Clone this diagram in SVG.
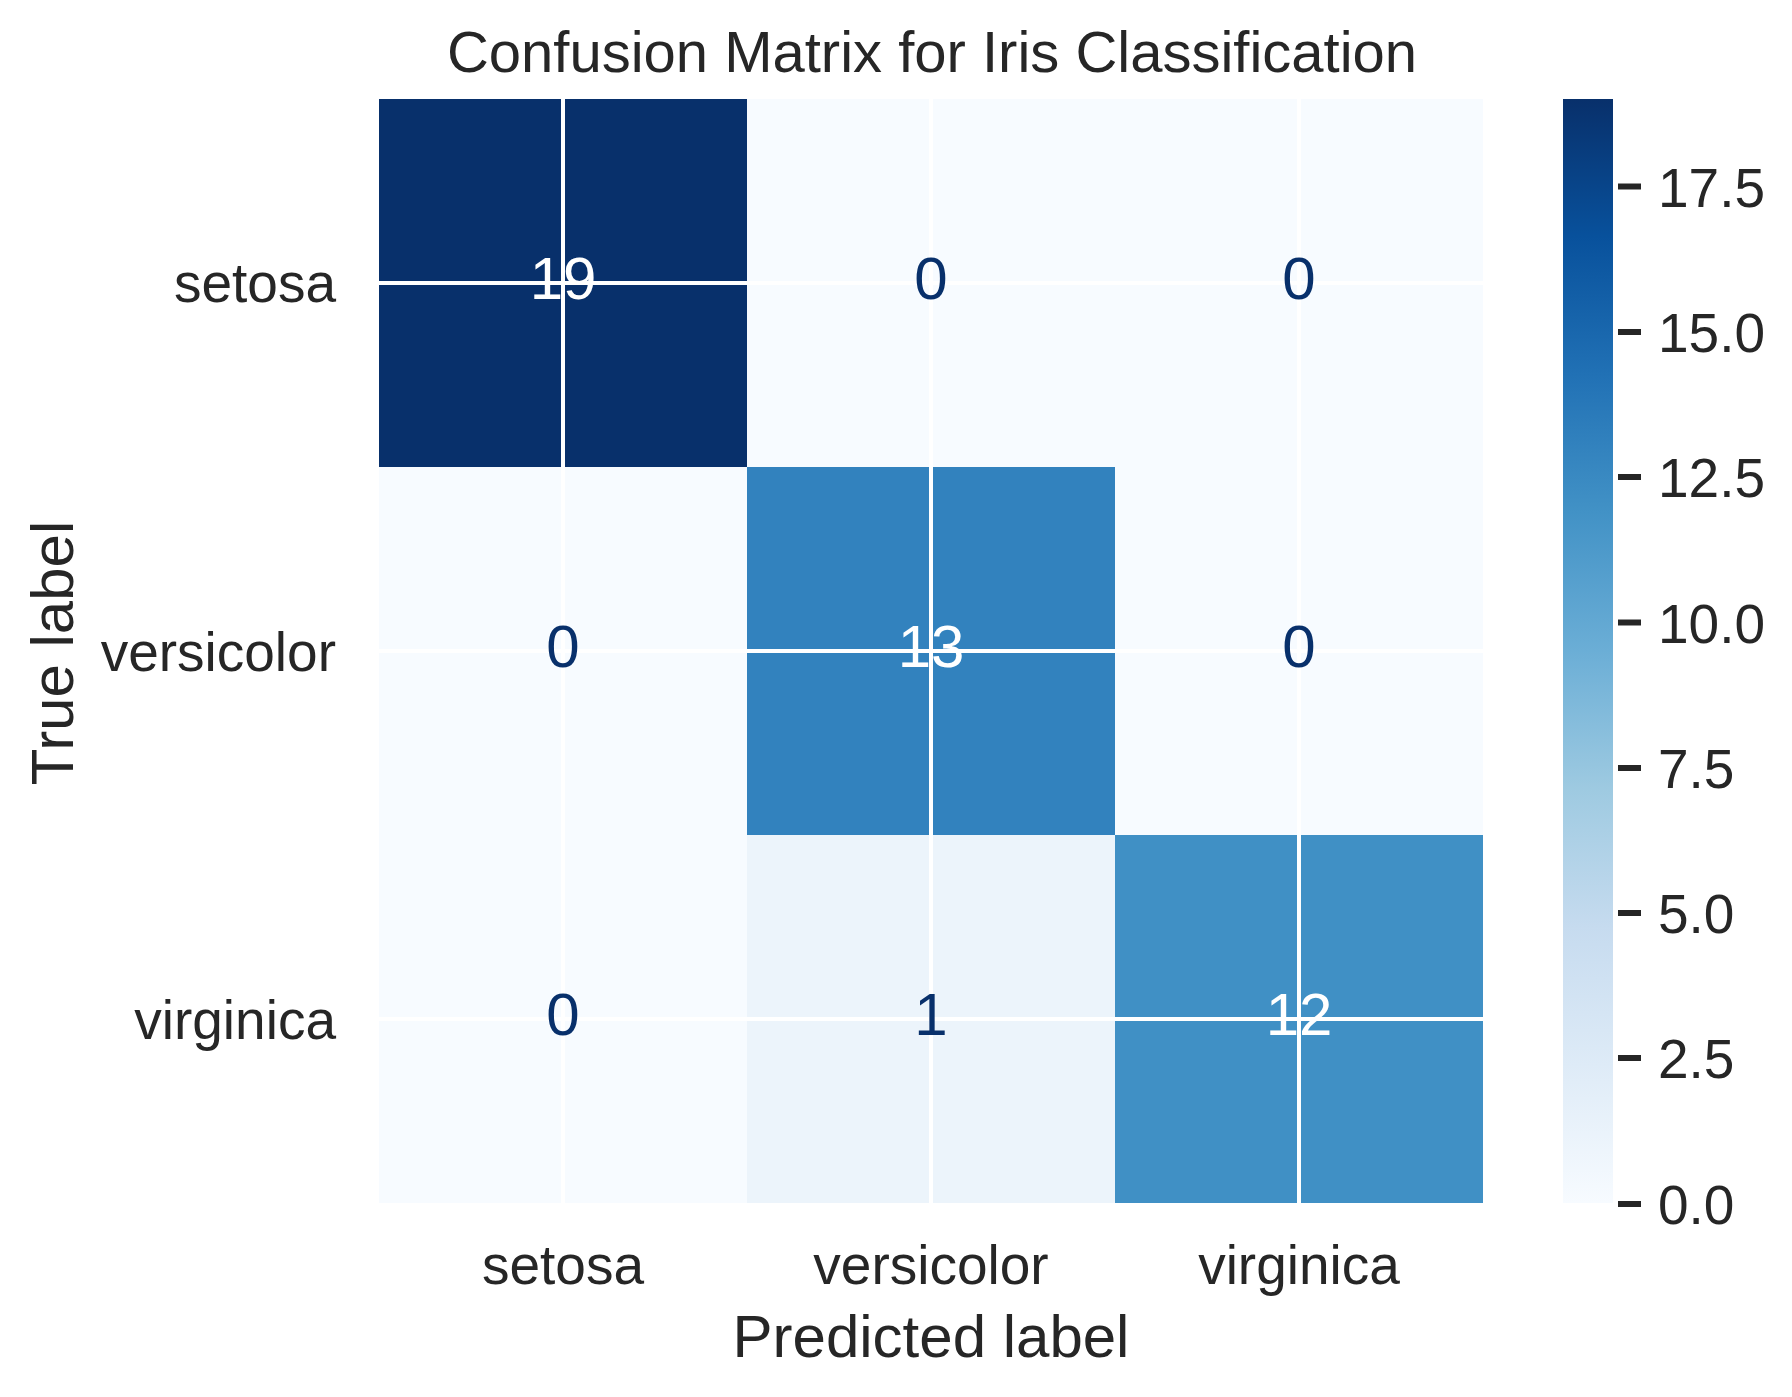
<svg xmlns="http://www.w3.org/2000/svg" width="1792" height="1397" viewBox="0 0 1792 1397">
<defs>
<linearGradient id="blues" x1="0" y1="1" x2="0" y2="0">
<stop offset="0" stop-color="#f7fbff"/>
<stop offset="0.125" stop-color="#deebf7"/>
<stop offset="0.25" stop-color="#c6dbef"/>
<stop offset="0.375" stop-color="#9ecae1"/>
<stop offset="0.5" stop-color="#6baed6"/>
<stop offset="0.625" stop-color="#4292c6"/>
<stop offset="0.75" stop-color="#2171b5"/>
<stop offset="0.875" stop-color="#08519c"/>
<stop offset="1" stop-color="#08306b"/>
</linearGradient>
<style>
text{font-family:"Liberation Sans",Arial,sans-serif;fill:#262626}
.tick{font-size:55px}
.lab{font-size:60px}
.title{font-size:58px}
.num{font-size:60px;text-anchor:middle}
.dk{fill:#08306b}
.wt{fill:#ffffff}
.grid line{stroke:#ffffff;stroke-width:4}
.cbt line{stroke:#262626;stroke-width:6}
</style>
</defs>
<rect width="1792" height="1397" fill="#ffffff"/>
<text class="title" x="932" y="72" text-anchor="middle">Confusion Matrix for Iris Classification</text>
<g id="matrix">
<rect x="379" y="99" width="368" height="368" fill="#08306b"/>
<rect x="747" y="99" width="368" height="368" fill="#f7fbff"/>
<rect x="1115" y="99" width="368" height="368" fill="#f7fbff"/>
<rect x="379" y="467" width="368" height="368" fill="#f7fbff"/>
<rect x="747" y="467" width="368" height="368" fill="#3282be"/>
<rect x="1115" y="467" width="368" height="368" fill="#f7fbff"/>
<rect x="379" y="835" width="368" height="368" fill="#f7fbff"/>
<rect x="747" y="835" width="368" height="368" fill="#ecf4fb"/>
<rect x="1115" y="835" width="368" height="368" fill="#4090c5"/>
</g>
<g class="grid">
<line x1="563" y1="99" x2="563" y2="1203"/>
<line x1="931" y1="99" x2="931" y2="1203"/>
<line x1="1299" y1="99" x2="1299" y2="1203"/>
<line x1="379" y1="283" x2="1483" y2="283"/>
<line x1="379" y1="651" x2="1483" y2="651"/>
<line x1="379" y1="1019" x2="1483" y2="1019"/>
</g>
<g id="values">
<text class="num wt" x="563" y="299">19</text>
<text class="num dk" x="931" y="299">0</text>
<text class="num dk" x="1299" y="299">0</text>
<text class="num dk" x="563" y="667">0</text>
<text class="num wt" x="931" y="667">13</text>
<text class="num dk" x="1299" y="667">0</text>
<text class="num dk" x="563" y="1035">0</text>
<text class="num dk" x="931" y="1035">1</text>
<text class="num wt" x="1299" y="1035">12</text>
</g>
<g id="yticks" class="tick" text-anchor="end">
<text x="336" y="302">setosa</text>
<text x="336" y="671">versicolor</text>
<text x="336" y="1039">virginica</text>
</g>
<g id="xticks" class="tick" text-anchor="middle">
<text x="563" y="1284">setosa</text>
<text x="931" y="1284">versicolor</text>
<text x="1299" y="1284">virginica</text>
</g>
<text class="lab" x="931" y="1357" text-anchor="middle">Predicted label</text>
<text class="lab" transform="translate(73,653) rotate(-90)" text-anchor="middle">True label</text>
<g id="colorbar">
<rect x="1563" y="99" width="50" height="1104" fill="url(#blues)"/>
<g class="cbt">
<line x1="1618" y1="1204" x2="1641" y2="1204"/>
<line x1="1618" y1="1058" x2="1641" y2="1058"/>
<line x1="1618" y1="913" x2="1641" y2="913"/>
<line x1="1618" y1="768" x2="1641" y2="768"/>
<line x1="1618" y1="622.5" x2="1641" y2="622.5"/>
<line x1="1618" y1="477" x2="1641" y2="477"/>
<line x1="1618" y1="332" x2="1641" y2="332"/>
<line x1="1618" y1="186.5" x2="1641" y2="186.5"/>
</g>
<g class="tick">
<text x="1658" y="1224">0.0</text>
<text x="1658" y="1078">2.5</text>
<text x="1658" y="933">5.0</text>
<text x="1658" y="788">7.5</text>
<text x="1658" y="642.5">10.0</text>
<text x="1658" y="497">12.5</text>
<text x="1658" y="352">15.0</text>
<text x="1658" y="206.5">17.5</text>
</g>
</g>
</svg>
